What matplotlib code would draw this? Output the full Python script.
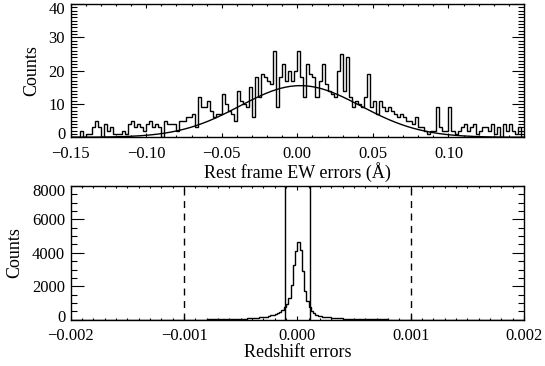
import numpy as np
import matplotlib
matplotlib.use('Agg')
import matplotlib.pyplot as plt
import matplotlib.transforms as mtransforms
from matplotlib.ticker import MultipleLocator, FixedLocator

plt.rcParams['font.family'] = ['Liberation Serif', 'DejaVu Serif']
plt.rcParams['font.size'] = 12
plt.rcParams['axes.linewidth'] = 1.0

# 上图: EW 误差直方图 (bin = 0.002, -0.15 ~ 0.15)
ew_lo, ew_hi = -0.15, 0.15
ew_counts = [0, 0, 0, 2, 0, 1, 1, 3, 5, 3, 0, 4, 2, 3, 1, 1, 1, 2, 1, 4,
             5, 3, 4, 3, 2, 4, 5, 3, 4, 3, 0, 5, 4, 4, 4, 2, 5, 5, 6, 6,
             7, 3, 12, 9, 9, 11, 8, 6, 7, 7, 13, 10, 8, 7, 5, 14, 11, 10, 9, 15,
             6, 18, 12, 19, 18, 17, 16, 26, 9, 18, 22, 17, 20, 17, 20, 26, 18, 12, 22, 19,
             18, 12, 17, 22, 16, 14, 13, 12, 20, 25, 14, 24, 12, 9, 11, 10, 9, 12, 19, 9,
             11, 7, 11, 9, 8, 9, 8, 7, 6, 7, 6, 5, 5, 4, 6, 3, 3, 2, 1, 2,
             2, 9, 3, 2, 2, 9, 2, 1, 2, 3, 4, 2, 3, 4, 1, 2, 3, 3, 2, 4,
             1, 3, 0, 4, 2, 4, 2, 1, 3, 0]
# 高斯拟合参数
g_amp, g_mu, g_sigma = 15.5, 0.002, 0.040

# 下图: 红移误差直方图 (中心区 bin = 0.00002)
z_counts_mid = [30, 35, 40, 45, 55, 60, 65, 70, 80, 90,
                100, 110, 120, 135, 150, 170, 190, 220, 260, 300,
                350, 400, 470, 580, 760, 950, 1300, 2100, 3300, 4100,
                4620, 4200, 2900, 1700, 1100, 750, 550, 400, 290, 240,
                200, 180, 160, 150, 140, 130, 115, 100, 90, 80,
                70, 65, 55, 50, 45, 40, 35, 30, 30, 25]
z_counts_left = [0, 15]          # -0.002~-0.0008, -0.0008~-0.0006
z_counts_right = [20, 10, 0]     # 0.0006~0.0008, 0.0008~0.001, 0.001~0.002
z_cut = 0.000113                 # 实线位置
z_dash = 0.001                   # 虚线位置

fig = plt.figure(figsize=(5.45, 3.66), dpi=100, facecolor='white')

# ---------------- 上图 ----------------
ax1 = fig.add_axes([0.1297, 0.6249, 0.8318, 0.3641])
edges1 = np.linspace(ew_lo, ew_hi, len(ew_counts) + 1)
ax1.stairs(ew_counts, edges1, color='black', lw=1.0)
xx = np.linspace(ew_lo, ew_hi, 400)
ax1.plot(xx, g_amp * np.exp(-(xx - g_mu) ** 2 / (2 * g_sigma ** 2)), color='black', lw=1.0)
ax1.set_xlim(ew_lo, ew_hi)
ax1.set_ylim(0, 40)
ax1.xaxis.set_major_locator(FixedLocator([-0.15, -0.10, -0.05, 0.0, 0.05, 0.10]))
ax1.xaxis.set_minor_locator(MultipleLocator(0.01))
ax1.set_xticklabels(['\u22120.15', '\u22120.10', '\u22120.05', '0.00', '0.05', '0.10'])
ax1.yaxis.set_major_locator(FixedLocator([0, 10, 20, 30, 40]))
ax1.yaxis.set_minor_locator(MultipleLocator(1))
ax1.set_xlabel('Rest frame EW errors (\u00c5)', fontsize=13, labelpad=0)
ax1.set_ylabel('Counts', fontsize=13, labelpad=6)

# ---------------- 下图 ----------------
ax2 = fig.add_axes([0.1297, 0.1265, 0.8318, 0.3653])
mid_edges = np.linspace(-0.0006, 0.0006, len(z_counts_mid) + 1)
edges2 = np.concatenate([[-0.002, -0.0008], mid_edges, [0.0008, 0.001, 0.002]])
vals2 = z_counts_left + z_counts_mid + z_counts_right
ax2.stairs(vals2, edges2, color='black', lw=1.0)
ax2.axvline(-z_dash, color='black', lw=1.0, ls=(0, (5, 4)))
ax2.axvline(z_dash, color='black', lw=1.0, ls=(0, (5, 4)))
ax2.axvline(-z_cut, color='black', lw=1.0)
ax2.axvline(z_cut, color='black', lw=1.0)
ax2.set_xlim(-0.002, 0.002)
ax2.set_ylim(0, 8000)
ax2.xaxis.set_major_locator(FixedLocator([-0.002, -0.001, 0.0, 0.001, 0.002]))
ax2.xaxis.set_minor_locator(MultipleLocator(0.0001))
ax2.set_xticklabels(['\u22120.002', '\u22120.001', '0.000', '0.001', '0.002'])
ax2.yaxis.set_major_locator(FixedLocator([0, 2000, 4000, 6000, 8000]))
ax2.yaxis.set_minor_locator(MultipleLocator(500))
ax2.set_xlabel('Redshift errors', fontsize=13, labelpad=0)
ax2.set_ylabel('Counts', fontsize=13, labelpad=6)

# IDL 风格刻度: 四边朝内, 两端 y 标注向内偏移
shift_up = mtransforms.ScaledTranslation(0, 4 / 100, fig.dpi_scale_trans)
shift_down = mtransforms.ScaledTranslation(0, -4 / 100, fig.dpi_scale_trans)
for ax in (ax1, ax2):
    ax.tick_params(which='both', direction='in', top=True, right=True, width=0.8)
    ax.tick_params(axis='x', which='major', length=3, pad=6)
    ax.tick_params(axis='x', which='minor', length=1.5)
    ax.tick_params(axis='y', which='major', length=9, pad=4)
    ax.tick_params(axis='y', which='minor', length=4.5)
    labs = ax.get_yticklabels()
    labs[0].set_transform(labs[0].get_transform() + shift_up)
    labs[-1].set_transform(labs[-1].get_transform() + shift_down)

plt.savefig('out.png', dpi=100, facecolor='white')
